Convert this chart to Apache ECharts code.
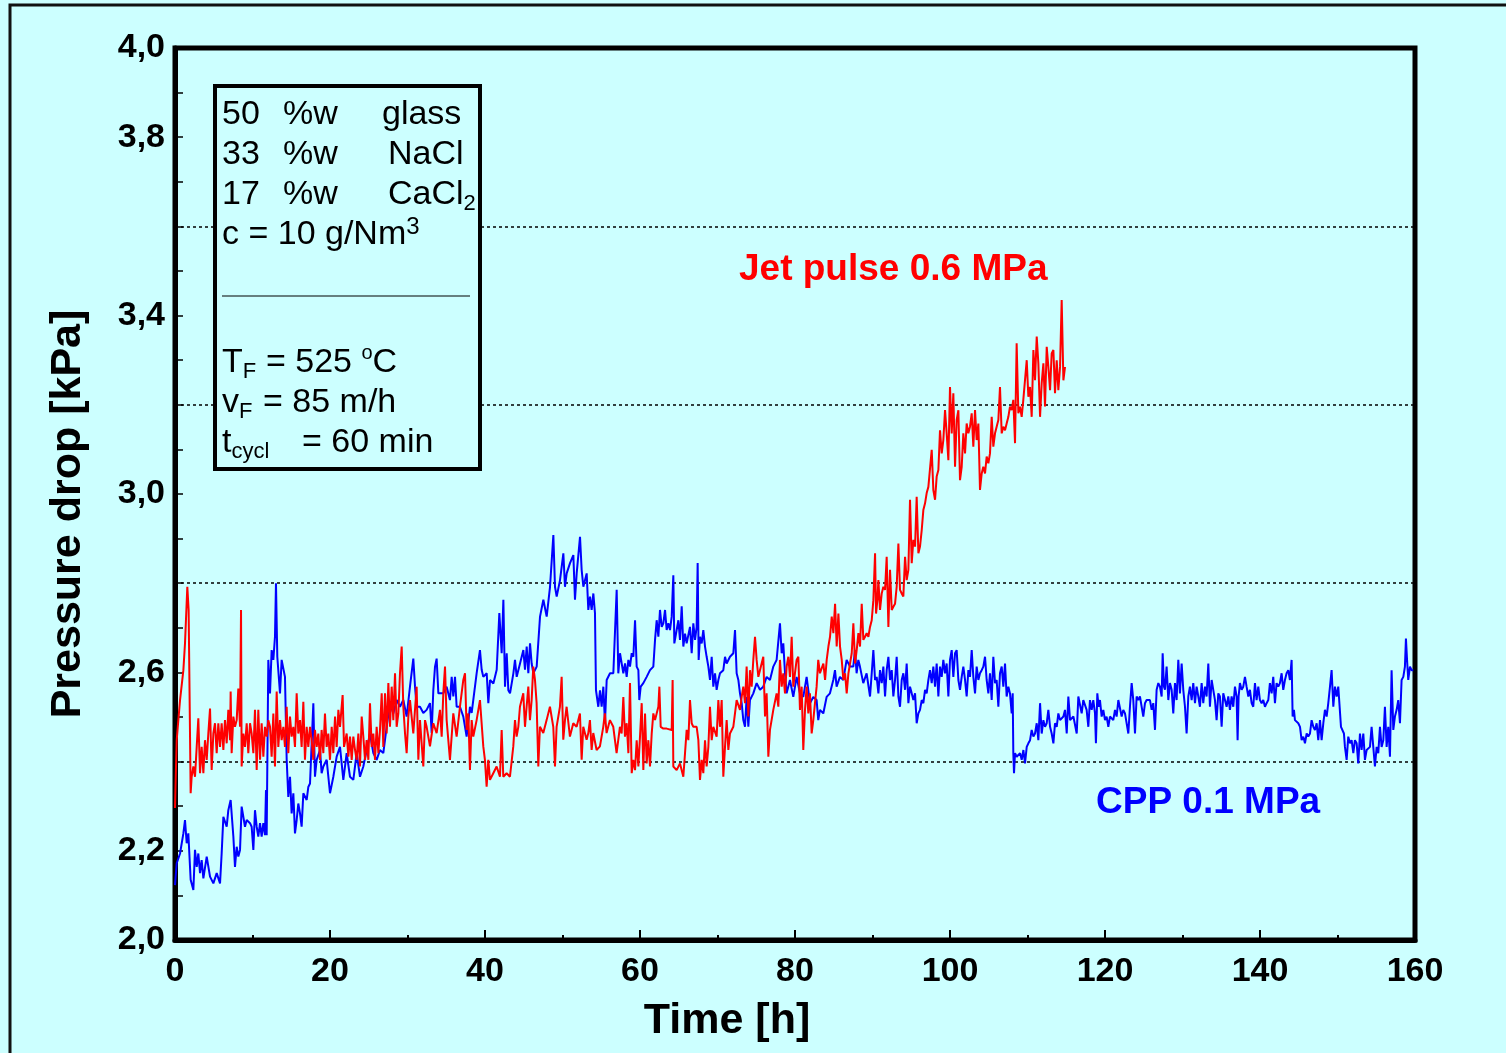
<!DOCTYPE html>
<html>
<head>
<meta charset="utf-8">
<title>Pressure drop vs time</title>
<script src="https://cdn.jsdelivr.net/npm/echarts@6.0.0/dist/echarts.min.js"></script>
<style>
  html, body { margin: 0; padding: 0; background: #ccffff; }
  #chart { width: 1506px; height: 1053px; }
</style>
</head>
<body>
<div id="chart"></div>
<script>
// [time h, pressure drop kPa]
var cppPoints = [
  [0,2.123],[0.22,2.172],[0.65,2.194],[1.08,2.239],[1.29,2.269],[1.51,2.217],[1.72,2.239],[1.94,2.243],[2.02,2.135],[2.37,2.112],
  [2.58,2.202],[2.8,2.164],[3.01,2.194],[3.23,2.15],[3.44,2.179],[3.66,2.138],[4.09,2.187],[4.52,2.142],[4.95,2.127],[5.38,2.15],
  [5.81,2.127],[6.02,2.194],[6.24,2.276],[6.67,2.254],[6.88,2.291],[7.18,2.314],[7.53,2.232],[7.74,2.164],[7.96,2.209],[8.17,2.187],
  [8.39,2.202],[8.6,2.299],[8.82,2.303],[9.03,2.254],[9.25,2.269],[9.68,2.262],[9.89,2.254],[10.11,2.202],[10.32,2.291],[10.54,2.254],
  [10.75,2.232],[10.97,2.262],[11.18,2.232],[11.4,2.262],[11.61,2.235],[11.74,2.336],[11.83,2.235],[12.04,2.628],[12.26,2.553],[12.47,2.65],
  [12.69,2.628],[12.9,2.68],[13.03,2.8],[13.2,2.635],[13.55,2.553],[13.76,2.628],[13.98,2.628],[14.19,2.59],[14.41,2.404],[14.62,2.321],
  [14.84,2.366],[15.05,2.284],[15.27,2.329],[15.48,2.239],[15.7,2.269],[15.91,2.306],[16.13,2.284],[16.34,2.254],[16.56,2.329],[16.99,2.314],
  [17.2,2.343],[17.42,2.351],[17.85,2.531],[18.06,2.366],[18.28,2.404],[18.71,2.426],[18.92,2.374],[19.14,2.389],[19.57,2.404],[20,2.329],
  [20.43,2.366],[20.86,2.411],[21.29,2.433],[21.72,2.359],[22.15,2.419],[22.58,2.366],[23.01,2.359],[23.44,2.419],[23.87,2.366],[24.3,2.389],
  [24.73,2.426],[25.16,2.463],[25.59,2.419],[26.02,2.404],[26.45,2.426],[26.88,2.419],[27.31,2.478],[27.74,2.531],[28.17,2.508],[28.6,2.538],
  [29.03,2.523],[29.46,2.538],[29.89,2.501],[30.32,2.568],[30.75,2.631],[30.97,2.568],[31.18,2.523],[31.61,2.523],[32.04,2.509],[32.47,2.516],
  [32.9,2.531],[33.12,2.464],[33.33,2.56],[33.55,2.613],[33.76,2.631],[33.98,2.553],[34.19,2.553],[34.62,2.553],[35.05,2.568],[35.48,2.538],
  [35.7,2.59],[35.91,2.546],[36.13,2.59],[36.34,2.523],[36.77,2.523],[37.2,2.501],[37.63,2.456],[38.06,2.523],[38.28,2.509],[38.92,2.598],
  [39.35,2.65],[39.57,2.606],[39.78,2.59],[40.22,2.598],[40.43,2.531],[40.65,2.583],[41.08,2.575],[41.51,2.606],[41.85,2.733],[42.15,2.643],
  [42.37,2.763],[42.58,2.568],[42.8,2.643],[43.01,2.56],[43.23,2.553],[43.66,2.598],[43.87,2.628],[44.09,2.59],[44.52,2.62],[44.95,2.65],
  [45.16,2.606],[45.38,2.658],[45.59,2.598],[45.81,2.665],[46.02,2.62],[46.24,2.598],[46.67,2.613],[47.1,2.725],[47.53,2.763],[47.96,2.725],
  [48.39,2.792],[48.82,2.908],[49.03,2.792],[49.25,2.77],[49.68,2.807],[50.11,2.867],[50.32,2.792],[50.54,2.822],[50.97,2.845],[51.4,2.863],
  [51.61,2.763],[51.83,2.822],[52.26,2.904],[52.47,2.83],[52.69,2.792],[53.12,2.822],[53.33,2.74],[53.55,2.77],[53.76,2.74],[53.98,2.777],
  [54.19,2.733],[54.32,2.56],[54.62,2.523],[54.84,2.56],[55.05,2.523],[55.27,2.568],[55.48,2.486],[55.7,2.583],[56.13,2.598],[56.56,2.598],
  [56.99,2.785],[57.2,2.598],
  [57.42,2.643],[57.85,2.598],[58.07,2.62],[58.28,2.59],[58.5,2.628],[58.71,2.613],[58.93,2.643],[59.14,2.635],[59.36,2.717],[59.57,2.613],
  [59.79,2.605],[59.91,2.538],[60.09,2.568],[60.43,2.576],[60.86,2.59],[61.29,2.605],[61.72,2.613],[61.94,2.673],[62.15,2.717],[62.37,2.68],
  [62.58,2.74],[62.8,2.702],[63.01,2.71],[63.23,2.74],[63.44,2.695],[63.66,2.71],[63.87,2.695],[64.09,2.725],[64.3,2.818],[64.43,2.665],
  [64.73,2.695],[64.95,2.717],[65.16,2.673],[65.38,2.748],[65.59,2.658],[65.81,2.687],[66.02,2.665],[66.45,2.702],[66.67,2.643],[66.88,2.71],
  [67.1,2.673],[67.31,2.702],[67.44,2.845],[67.57,2.628],[67.74,2.68],[67.96,2.665],[68.17,2.695],[68.39,2.658],[68.6,2.635],[68.82,2.613],
  [69.03,2.583],[69.25,2.635],[69.46,2.568],[69.68,2.598],[69.89,2.561],[70.11,2.583],[70.32,2.598],[70.75,2.605],[70.97,2.635],[71.18,2.62],
  [71.61,2.635],[72.04,2.643],[72.26,2.695],[72.47,2.598],[72.69,2.583],[72.9,2.553],[73.12,2.531],[73.33,2.493],[73.55,2.478],[73.76,2.545],
  [73.98,2.478],[74.19,2.538],[74.62,2.553],[75.05,2.576],[75.48,2.561],[75.91,2.568],[76.34,2.59],[76.77,2.583],[77.2,2.613],[77.63,2.628],
  [78.06,2.71],[78.28,2.643],[78.49,2.665],[78.71,2.598],[78.92,2.553],[79.35,2.583],[79.78,2.545],[80.21,2.59],[80.64,2.553],[81.07,2.545],
  [81.5,2.59],[81.93,2.531],[82.36,2.545],[82.79,2.538],[83,2.493],[83.22,2.516],[83.65,2.508],[84.08,2.545],[84.51,2.553],[84.94,2.583],
  [85.16,2.605],[85.37,2.568],[85.8,2.59],[86.23,2.583],[86.66,2.628],[87.09,2.613],[87.52,2.613],[87.74,2.65],[87.95,2.598],[88.17,2.628],
  [88.38,2.613],[88.81,2.576],[89.24,2.598],
  [89.68,2.546],[89.9,2.598],[90.11,2.65],[90.33,2.583],[90.54,2.59],[90.76,2.553],[90.97,2.605],[91.19,2.576],[91.4,2.613],[91.62,2.546],
  [91.83,2.605],[92.05,2.635],[92.26,2.583],[92.48,2.605],[92.69,2.546],[92.91,2.583],[93.12,2.635],[93.34,2.546],[93.55,2.523],[93.77,2.583],
  [93.98,2.598],[94.2,2.561],[94.41,2.62],[94.63,2.531],[94.84,2.568],[95.06,2.553],[95.27,2.538],[95.49,2.553],[95.7,2.486],[95.92,2.508],
  [96.13,2.516],[96.35,2.538],[96.56,2.531],[96.78,2.561],[96.99,2.553],[97.21,2.583],[97.42,2.605],[97.64,2.576],[97.85,2.613],[98.07,2.568],
  [98.28,2.62],[98.5,2.546],[98.71,2.613],[98.93,2.59],[99.14,2.628],[99.36,2.598],[99.57,2.62],[99.79,2.546],[100,2.628],[100.22,2.65],
  [100.43,2.59],[100.65,2.643],[100.86,2.65],[101.08,2.583],[101.29,2.561],[101.51,2.59],[101.72,2.613],[101.94,2.583],[102.15,2.546],[102.37,2.605],
  [102.58,2.59],[102.8,2.65],[103.01,2.59],[103.23,2.553],[103.44,2.613],[103.66,2.583],[103.87,2.598],[104.09,2.605],[104.3,2.613],[104.52,2.635],
  [104.73,2.583],[104.95,2.553],[105.16,2.598],[105.38,2.538],[105.59,2.635],[105.81,2.576],[106.02,2.583],[106.24,2.523],[106.45,2.598],[106.67,2.613],
  [106.88,2.568],[107.1,2.62],[107.31,2.546],[107.53,2.568],[107.74,2.553],[107.96,2.508],[108.09,2.553],[108.17,2.419],[108.26,2.374],[108.39,2.419],
  [108.61,2.411],[109.04,2.419],[109.25,2.404],[109.47,2.426],[109.68,2.396],[109.9,2.433],[110.11,2.441],[110.33,2.448],[110.54,2.471],[110.76,2.456],
  [110.97,2.463],[111.19,2.486],[111.4,2.448],[111.62,2.531],[111.83,2.463],[112.05,2.493],[112.26,2.478],[112.48,2.486],[112.69,2.516],[112.91,2.478],
  [113.12,2.463],[113.34,2.441],[113.55,2.486],[113.77,2.478],[113.98,2.508],[114.2,2.493],[114.63,2.501],[114.84,2.516],[115.06,2.463],[115.27,2.546],
  [115.49,2.493],[115.92,2.501],[116.35,2.463],[116.56,2.546],
  [116.77,2.546],[116.99,2.508],[117.2,2.538],[117.42,2.538],[117.63,2.516],[117.85,2.478],[118.06,2.538],[118.28,2.516],[118.49,2.538],[118.71,2.508],
  [118.83,2.441],[119.01,2.553],[119.18,2.523],[119.35,2.538],[119.57,2.501],[119.78,2.516],[120,2.493],[120.21,2.501],[120.43,2.478],[120.64,2.501],
  [121.07,2.493],[121.29,2.516],[121.5,2.501],[121.72,2.538],[121.93,2.538],[122.15,2.501],[122.36,2.516],[122.58,2.508],[122.79,2.508],[123.01,2.463],
  [123.22,2.523],[123.44,2.576],[123.65,2.538],[123.87,2.463],[124.08,2.546],[124.3,2.538],[124.51,2.546],[124.94,2.501],[125.16,2.531],[125.37,2.538],
  [125.8,2.538],[126.02,2.516],[126.23,2.531],[126.45,2.471],[126.66,2.561],[126.88,2.576],[127.09,2.568],[127.31,2.546],[127.44,2.643],[127.61,2.568],
  [127.74,2.561],[127.95,2.613],[128.17,2.538],[128.38,2.576],[128.6,2.561],[128.81,2.508],[129.03,2.576],[129.24,2.538],[129.46,2.628],[129.67,2.553],
  [129.89,2.62],[130.1,2.561],[130.32,2.523],[130.53,2.463],[130.75,2.546],[130.96,2.568],[131.18,2.538],[131.39,2.576],[131.61,2.531],[131.82,2.568],
  [132.04,2.546],[132.25,2.523],[132.47,2.576],[132.68,2.531],[132.9,2.568],[133.11,2.546],[133.33,2.62],[133.54,2.523],[133.76,2.583],[133.97,2.561],
  [134.19,2.538],[134.4,2.493],[134.62,2.553],[134.83,2.546],[135.05,2.478],[135.26,2.553],[135.48,2.538],[135.69,2.523],[135.91,2.546],[136.12,2.516],
  [136.34,2.546],[136.55,2.523],[136.77,2.568],[136.98,2.546],[137.11,2.448],[137.24,2.546],[137.41,2.576],[137.63,2.561],[137.84,2.568],[138.06,2.59],
  [138.27,2.568],[138.49,2.546],[138.7,2.561],[138.92,2.531],[139.13,2.523],[139.35,2.576],[139.56,2.538],[139.78,2.568],[139.99,2.538],[140.21,2.531],
  [140.42,2.538],[140.64,2.523],[140.85,2.531],[141.07,2.538],[141.28,2.576],[141.5,2.553],[141.71,2.59],[141.93,2.531],[142.14,2.576],[142.36,2.568],
  [142.57,2.576],[142.79,2.598],[143,2.561],[143.22,2.583],[143.43,2.598],[143.65,2.605],[143.86,2.583],[144.08,2.628],[144.21,2.501],[144.38,2.516],
  [144.51,2.493],[144.73,2.493],[144.94,2.486],[145.16,2.478],[145.37,2.448],[145.59,2.456],[145.8,2.441],[146.02,2.463],[146.23,2.456],[146.45,2.463],
  [146.66,2.493],[146.88,2.478],[147.09,2.471],[147.31,2.486],[147.52,2.448],[147.74,2.493],[147.95,2.448],[148.17,2.486],[148.38,2.516],[148.6,2.501],
  [148.81,2.531],[149.03,2.568],[149.24,2.605],[149.46,2.523],[149.67,2.568],[149.89,2.546],[150.1,2.568],[150.32,2.568],[150.45,2.478],[150.66,2.478],
  [150.83,2.463],[150.96,2.433],[151.18,2.404],[151.39,2.456],[151.61,2.441],[151.82,2.448],[152.04,2.419],[152.25,2.448],[152.47,2.441],[152.68,2.396],
  [152.9,2.463],[153.11,2.426],[153.33,2.463],[153.54,2.404],[153.76,2.426],[153.97,2.426],[154.19,2.433],[154.4,2.478],[154.62,2.478],[154.83,2.389],
  [155.05,2.433],[155.26,2.419],[155.48,2.478],[155.69,2.433],[155.91,2.448],[156.12,2.523],[156.34,2.433],[156.55,2.478],[156.77,2.411],[156.98,2.605],
  [157.2,2.471],[157.41,2.501],[157.63,2.516],[157.84,2.538],[158.06,2.486],[158.27,2.583],[158.49,2.59],[158.7,2.613],[158.83,2.676],[159,2.62],
  [159.13,2.583],[159.35,2.613],[159.56,2.605],[159.78,2.605]
];

var jetPoints = [
  [0,2.296],[0.13,2.389],[0.22,2.448],[0.43,2.493],[0.65,2.538],[1.08,2.605],[1.29,2.665],[1.59,2.792],[1.76,2.74],[1.94,2.74],
  [2.02,2.329],[2.15,2.366],[2.37,2.389],[2.58,2.366],[2.8,2.433],[3.01,2.497],[3.23,2.374],[3.44,2.433],[3.66,2.374],[3.87,2.448],
  [4.09,2.404],[4.3,2.463],[4.52,2.519],[4.73,2.381],[4.95,2.463],[5.16,2.486],[5.38,2.419],[5.59,2.486],[5.81,2.433],[6.02,2.486],
  [6.24,2.426],[6.45,2.493],[6.67,2.441],[6.88,2.516],[7.1,2.448],[7.18,2.557],[7.31,2.419],[7.53,2.501],[7.74,2.478],[7.96,2.493],
  [8.17,2.564],[8.39,2.478],[8.52,2.74],[8.6,2.389],[8.82,2.463],[9.03,2.433],[9.25,2.486],[9.46,2.419],[9.68,2.486],[9.89,2.463],
  [10.11,2.419],[10.32,2.516],[10.54,2.381],[10.75,2.516],[10.97,2.404],[11.18,2.486],[11.4,2.411],[11.61,2.478],[11.83,2.456],[12.04,2.493],
  [12.26,2.478],[12.47,2.411],[12.69,2.508],[12.9,2.389],[13.12,2.557],[13.33,2.433],[13.55,2.493],[13.76,2.448],[13.98,2.478],[14.19,2.433],
  [14.41,2.523],[14.62,2.419],[14.84,2.501],[15.05,2.456],[15.27,2.478],[15.48,2.433],[15.7,2.553],[15.91,2.463],[16.13,2.493],[16.34,2.433],
  [16.56,2.534],[16.77,2.404],[16.99,2.478],[17.2,2.433],[17.42,2.478],[17.63,2.448],[17.85,2.404],[18.06,2.471],[18.28,2.433],[18.49,2.463],
  [18.71,2.404],[18.92,2.471],[19.14,2.419],[19.35,2.508],[19.57,2.433],[19.78,2.463],[20,2.404],[20.22,2.478],[20.43,2.419],[20.65,2.501],
  [20.86,2.433],[21.08,2.516],[21.29,2.478],[21.63,2.549],[21.81,2.433],[22.15,2.463],[22.37,2.411],[22.58,2.456],[22.8,2.404],[23.01,2.456],
  [23.23,2.426],[23.44,2.404],[23.66,2.463],[23.87,2.389],[24.09,2.501],[24.3,2.456],[24.52,2.404],[24.73,2.448],[24.95,2.404],[25.16,2.531],
  [25.38,2.433],[25.59,2.463],[25.81,2.404],[26.02,2.478],[26.24,2.419],[26.45,2.471],[26.67,2.553],[26.88,2.433],[27.1,2.553],[27.31,2.463],
  [27.53,2.576],[27.74,2.478],[27.96,2.568],[28.17,2.493],[28.39,2.598],[28.6,2.478],[28.82,2.508],[29.03,2.598],[29.25,2.658],[29.46,2.523],
  [29.68,2.463],[29.89,2.419],[30.11,2.501],[30.32,2.538],[30.75,2.463],
  [31.18,2.568],[31.4,2.404],[31.61,2.493],[32.04,2.389],[32.26,2.493],[32.47,2.478],[32.9,2.434],[33.33,2.486],[33.76,2.464],[34.19,2.516],
  [34.41,2.456],[34.62,2.553],[34.84,2.613],[35.05,2.493],[35.48,2.404],[35.91,2.508],[36.34,2.456],[36.77,2.523],[37.2,2.583],[37.42,2.598],
  [37.63,2.471],[37.85,2.508],[38.06,2.381],[38.28,2.493],[38.49,2.456],[38.92,2.493],[39.35,2.538],[39.78,2.434],[39.99,2.404],[40.21,2.344],
  [40.43,2.404],[40.64,2.359],[41.07,2.374],[41.5,2.389],[41.93,2.366],[42.15,2.471],[42.36,2.366],[42.79,2.374],[43.22,2.366],[43.65,2.434],
  [43.87,2.493],[44.08,2.456],[44.3,2.478],[44.51,2.523],[44.94,2.553],[45.16,2.478],[45.37,2.523],[45.59,2.568],[45.8,2.493],[46.02,2.538],
  [46.23,2.613],[46.45,2.583],[46.66,2.531],[46.88,2.389],[47.09,2.478],[47.52,2.464],[47.95,2.493],[48.38,2.523],[48.81,2.478],[49.03,2.389],
  [49.24,2.478],[49.67,2.523],[49.89,2.59],[50.1,2.449],[50.32,2.493],[50.53,2.523],[50.96,2.456],[51.39,2.486],[51.82,2.478],[52.25,2.508],
  [52.47,2.404],[52.68,2.478],[53.11,2.449],[53.33,2.464],[53.54,2.493],[53.76,2.426],[53.97,2.464],[54.4,2.426],[54.83,2.434],[55.26,2.478],
  [55.47,2.508],[55.69,2.464],[56.12,2.493],[56.55,2.478],[56.98,2.419],[57.41,2.478],
  [57.63,2.463],[57.85,2.545],[58.06,2.456],[58.28,2.486],[58.5,2.419],[58.71,2.576],[58.93,2.374],[59.14,2.404],[59.36,2.381],[59.57,2.448],
  [59.79,2.389],[60,2.456],[60.22,2.531],[60.43,2.381],[60.65,2.508],[60.86,2.396],[61.08,2.448],[61.29,2.389],[61.51,2.463],[61.72,2.508],
  [61.94,2.493],[62.15,2.508],[62.37,2.523],[62.5,2.568],[62.67,2.478],[63.01,2.474],[63.44,2.474],[64.09,2.471],[64.21,2.583],[64.3,2.389],
  [64.73,2.381],[65.16,2.396],[65.59,2.366],[65.81,2.419],[66.02,2.471],[66.24,2.448],[66.45,2.538],[66.67,2.486],[66.88,2.478],[67.31,2.478],
  [67.53,2.448],[67.74,2.359],[67.96,2.404],[68.17,2.374],[68.39,2.448],[68.6,2.389],[68.82,2.433],[69.03,2.523],[69.25,2.448],[69.46,2.478],
  [69.89,2.456],[70.11,2.538],[70.32,2.478],[70.54,2.538],[70.75,2.366],[70.97,2.433],[71.18,2.493],[71.4,2.426],[71.61,2.463],[72.04,2.478],
  [72.47,2.538],[72.9,2.516],[73.12,2.545],[73.33,2.568],[73.55,2.531],[73.76,2.613],[73.98,2.501],[74.19,2.605],[74.41,2.568],[74.62,2.628],
  [74.84,2.68],[75.05,2.628],[75.27,2.59],[75.48,2.605],[75.91,2.635],[76.13,2.501],[76.34,2.553],[76.56,2.411],[76.77,2.471],[77.2,2.516],
  [77.63,2.553],[77.85,2.523],[78.06,2.628],[78.28,2.568],[78.49,2.598],[78.71,2.553],[78.92,2.613],[79.14,2.635],[79.35,2.59],[79.57,2.68],
  [79.78,2.568],[80.21,2.628],[80.43,2.635],[80.64,2.516],[80.86,2.568],[81.07,2.426],[81.29,2.516],[81.5,2.568],[81.72,2.508],[81.93,2.553],
  [82.15,2.463],[82.36,2.493],[82.79,2.568],[83,2.628],[83.22,2.598],
  [83.45,2.598],[83.66,2.62],[83.88,2.583],[84.09,2.628],[84.31,2.658],[84.52,2.68],[84.74,2.725],[84.95,2.688],[85.17,2.754],[85.38,2.658],
  [85.6,2.732],[85.81,2.658],[86.03,2.628],[86.24,2.583],[86.46,2.598],[86.67,2.553],[86.89,2.598],[87.1,2.62],[87.32,2.643],[87.53,2.71],
  [87.75,2.62],[87.96,2.65],[88.18,2.688],[88.39,2.658],[88.61,2.754],[88.82,2.673],[89.04,2.68],[89.25,2.688],[89.47,2.68],[89.68,2.702],
  [89.9,2.717],[90.11,2.762],[90.33,2.867],[90.46,2.732],[90.63,2.762],[90.76,2.807],[90.97,2.74],[91.19,2.777],[91.4,2.792],[91.62,2.785],
  [91.83,2.859],[92.05,2.702],[92.26,2.83],[92.48,2.74],[92.69,2.747],[92.91,2.754],[93.12,2.792],[93.34,2.889],[93.55,2.785],[93.77,2.777],
  [93.98,2.77],[94.2,2.859],[94.41,2.807],[94.63,2.83],[94.84,2.987],[95.06,2.845],[95.27,2.897],[95.49,2.882],[95.7,2.994],[95.92,2.867],
  [96.13,2.882],[96.35,2.919],[96.56,2.964],[96.78,2.979],[96.99,3.002],[97.21,3.016],[97.42,3.016],[97.64,3.099],[97.85,3.009],[98.07,2.987],
  [98.28,3.039],[98.5,3.054],[98.71,3.143],[98.93,3.091],[99.14,3.121],[99.36,3.188],[99.57,3.136],[99.79,3.076],[100,3.24],[100.22,3.136],
  [100.43,3.226],[100.65,3.061],[100.86,3.166],[101.08,3.188],[101.29,3.031],[101.51,3.061],[101.72,3.136],[101.94,3.091],[102.15,3.158],[102.37,3.136],
  [102.58,3.151],[102.8,3.181],[103.01,3.106],[103.23,3.188],[103.44,3.121],[103.66,3.158],[103.87,3.009],[104.09,3.046],[104.3,3.061],[104.52,3.046],
  [104.73,3.084],[104.95,3.069],[105.16,3.091],[105.38,3.173],[105.59,3.106],[105.81,3.136],[106.02,3.151],[106.24,3.166],[106.45,3.24],[106.67,3.136],
  [106.88,3.151],[107.1,3.143],[107.31,3.158],[107.53,3.173],[107.74,3.196],[107.96,3.188],[108.17,3.211],[108.39,3.114],[108.6,3.338],[108.82,3.181],
  [109.03,3.196],[109.25,3.173],[109.46,3.211],[109.68,3.211],[109.9,3.3],[110.11,3.218],[110.33,3.24],[110.54,3.173],[110.76,3.323],[110.97,3.255],
  [111.19,3.353],[111.4,3.293],[111.62,3.173],[111.83,3.248],[112.05,3.293],[112.26,3.196],[112.48,3.33],[112.69,3.285],[112.91,3.233],[113.12,3.315],
  [113.34,3.323],[113.55,3.226],[113.77,3.3],[113.98,3.233],[114.2,3.285],[114.41,3.435],[114.63,3.255],[114.84,3.285]
];

var yTickLabels = ['2,0', '2,2', '2,6', '3,0', '3,4', '3,8', '4,0'];

var FONT = '"Liberation Sans", Arial, sans-serif';
var BG = '#ccffff';

// rich text styles for the info box (sub/superscripts)
var boxRich = {
  n:    { fontSize: 34, fontFamily: FONT, lineHeight: 40 },
  sub:  { fontSize: 22, fontFamily: FONT, lineHeight: 22, verticalAlign: 'bottom' },
  sub2: { fontSize: 22, fontFamily: FONT, lineHeight: 14, verticalAlign: 'bottom' },
  sup:  { fontSize: 24, fontFamily: FONT, lineHeight: 26, verticalAlign: 'top' },
  sup2: { fontSize: 20, fontFamily: FONT, lineHeight: 18, verticalAlign: 'top' }
};

function boxText(x, y, text) {
  return {
    type: 'text', x: x, y: y, z: 101, silent: true,
    style: { text: text, fill: '#000', verticalAlign: 'middle', rich: boxRich, fontFamily: FONT, fontSize: 34 }
  };
}

var chart = echarts.init(document.getElementById('chart'));

var option = {
  animation: false,
  backgroundColor: BG,
  grid: {
    left: 175, right: 91, top: 48, bottom: 113,
    show: true, borderColor: '#000', borderWidth: 5, backgroundColor: 'transparent',
    outerBoundsMode: 'none'
  },
  xAxis: {
    type: 'value', min: 0, max: 160, interval: 20,
    name: 'Time [h]', nameLocation: 'middle', nameGap: 60, nameMoveOverlap: false,
    nameTextStyle: { fontFamily: FONT, fontWeight: 'bold', fontSize: 43, color: '#000', padding: [0, 136, 0, 0] },
    axisLine: { show: true, onZero: false, lineStyle: { color: '#000', width: 5 } },
    axisTick: { show: true, inside: true, length: 10, lineStyle: { color: '#000', width: 2 } },
    minorTick: { show: true, splitNumber: 2, length: 5, lineStyle: { color: '#000', width: 2 } },
    axisLabel: { fontFamily: FONT, fontWeight: 'bold', fontSize: 34, color: '#000', margin: 15 },
    splitLine: { show: false }
  },
  yAxis: {
    type: 'value', min: 2, max: 4, interval: 0.2,
    name: 'Pressure drop [kPa]', nameLocation: 'middle', nameGap: 85, nameMoveOverlap: false,
    nameTextStyle: { fontFamily: FONT, fontWeight: 'bold', fontSize: 43, color: '#000', padding: [0, 40, 0, 0] },
    axisLine: { show: true, onZero: false, lineStyle: { color: '#000', width: 5 } },
    axisTick: { show: true, inside: true, length: 8, lineStyle: { color: '#000', width: 1.5 } },
    minorTick: { show: true, splitNumber: 2, length: 8, lineStyle: { color: '#000', width: 1.5 } },
    axisLabel: {
      fontFamily: FONT, fontWeight: 'bold', fontSize: 34, color: '#000', margin: 10,
      formatter: function (v) {
        var s = v.toFixed(1).replace('.', ',');
        return yTickLabels.indexOf(s) >= 0 ? s : '';
      }
    },
    // dotted lines at 2.4, 2.8, 3.2, 3.6 only
    splitLine: { show: true, lineStyle: { color: ['#000', 'rgba(0,0,0,0)'], width: 1.5, type: [3, 3] } }
  },
  series: [
    {
      name: 'CPP 0.1 MPa', type: 'line', data: cppPoints,
      showSymbol: false, symbol: 'none',
      lineStyle: { color: '#0000ff', width: 2 }, z: 3
    },
    {
      name: 'Jet pulse 0.6 MPa', type: 'line', data: jetPoints,
      showSymbol: false, symbol: 'none',
      lineStyle: { color: '#ff0000', width: 2 }, z: 4
    }
  ],
  graphic: {
    elements: [
      { type: 'polyline', silent: true, shape: { points: [[10, 1060], [10, 5], [1510, 5]] },
        style: { stroke: '#111', lineWidth: 3, fill: null } },
      { type: 'rect', silent: true, z: 100, shape: { x: 215, y: 86, width: 265, height: 383 },
        style: { fill: BG, stroke: '#000', lineWidth: 4 } },
      { type: 'line', silent: true, z: 101, shape: { x1: 222, y1: 296, x2: 470, y2: 296 },
        style: { stroke: '#000', lineWidth: 1 } },
      boxText(222, 115, '{n|50}'), boxText(283, 115, '{n|%w}'), boxText(382, 115, '{n|glass}'),
      boxText(222, 155, '{n|33}'), boxText(283, 155, '{n|%w}'), boxText(388, 155, '{n|NaCl}'),
      boxText(222, 195, '{n|17}'), boxText(283, 195, '{n|%w}'), boxText(388, 195, '{n|CaCl}{sub|2}'),
      boxText(222, 235, '{n|c = 10 g/Nm}{sup|3}'),
      boxText(222, 363, '{n|T}{sub|F}'), boxText(266, 363, '{n|= 525 }{sup2|o}{n|C}'),
      boxText(222, 403, '{n|v}{sub|F}'), boxText(263, 403, '{n|= 85 m/h}'),
      boxText(222, 443, '{n|t}{sub2|cycl}'), boxText(302, 443, '{n|= 60 min}'),
      { type: 'text', x: 739, y: 270, z: 101, silent: true,
        style: { text: 'Jet pulse 0.6 MPa', fill: '#ff0000', fontFamily: FONT, fontWeight: 'bold', fontSize: 37, verticalAlign: 'middle' } },
      { type: 'text', x: 1096, y: 803, z: 101, silent: true,
        style: { text: 'CPP 0.1 MPa', fill: '#0000ff', fontFamily: FONT, fontWeight: 'bold', fontSize: 37, verticalAlign: 'middle' } }
    ]
  }
};

chart.setOption(option);
</script>
</body>
</html>
